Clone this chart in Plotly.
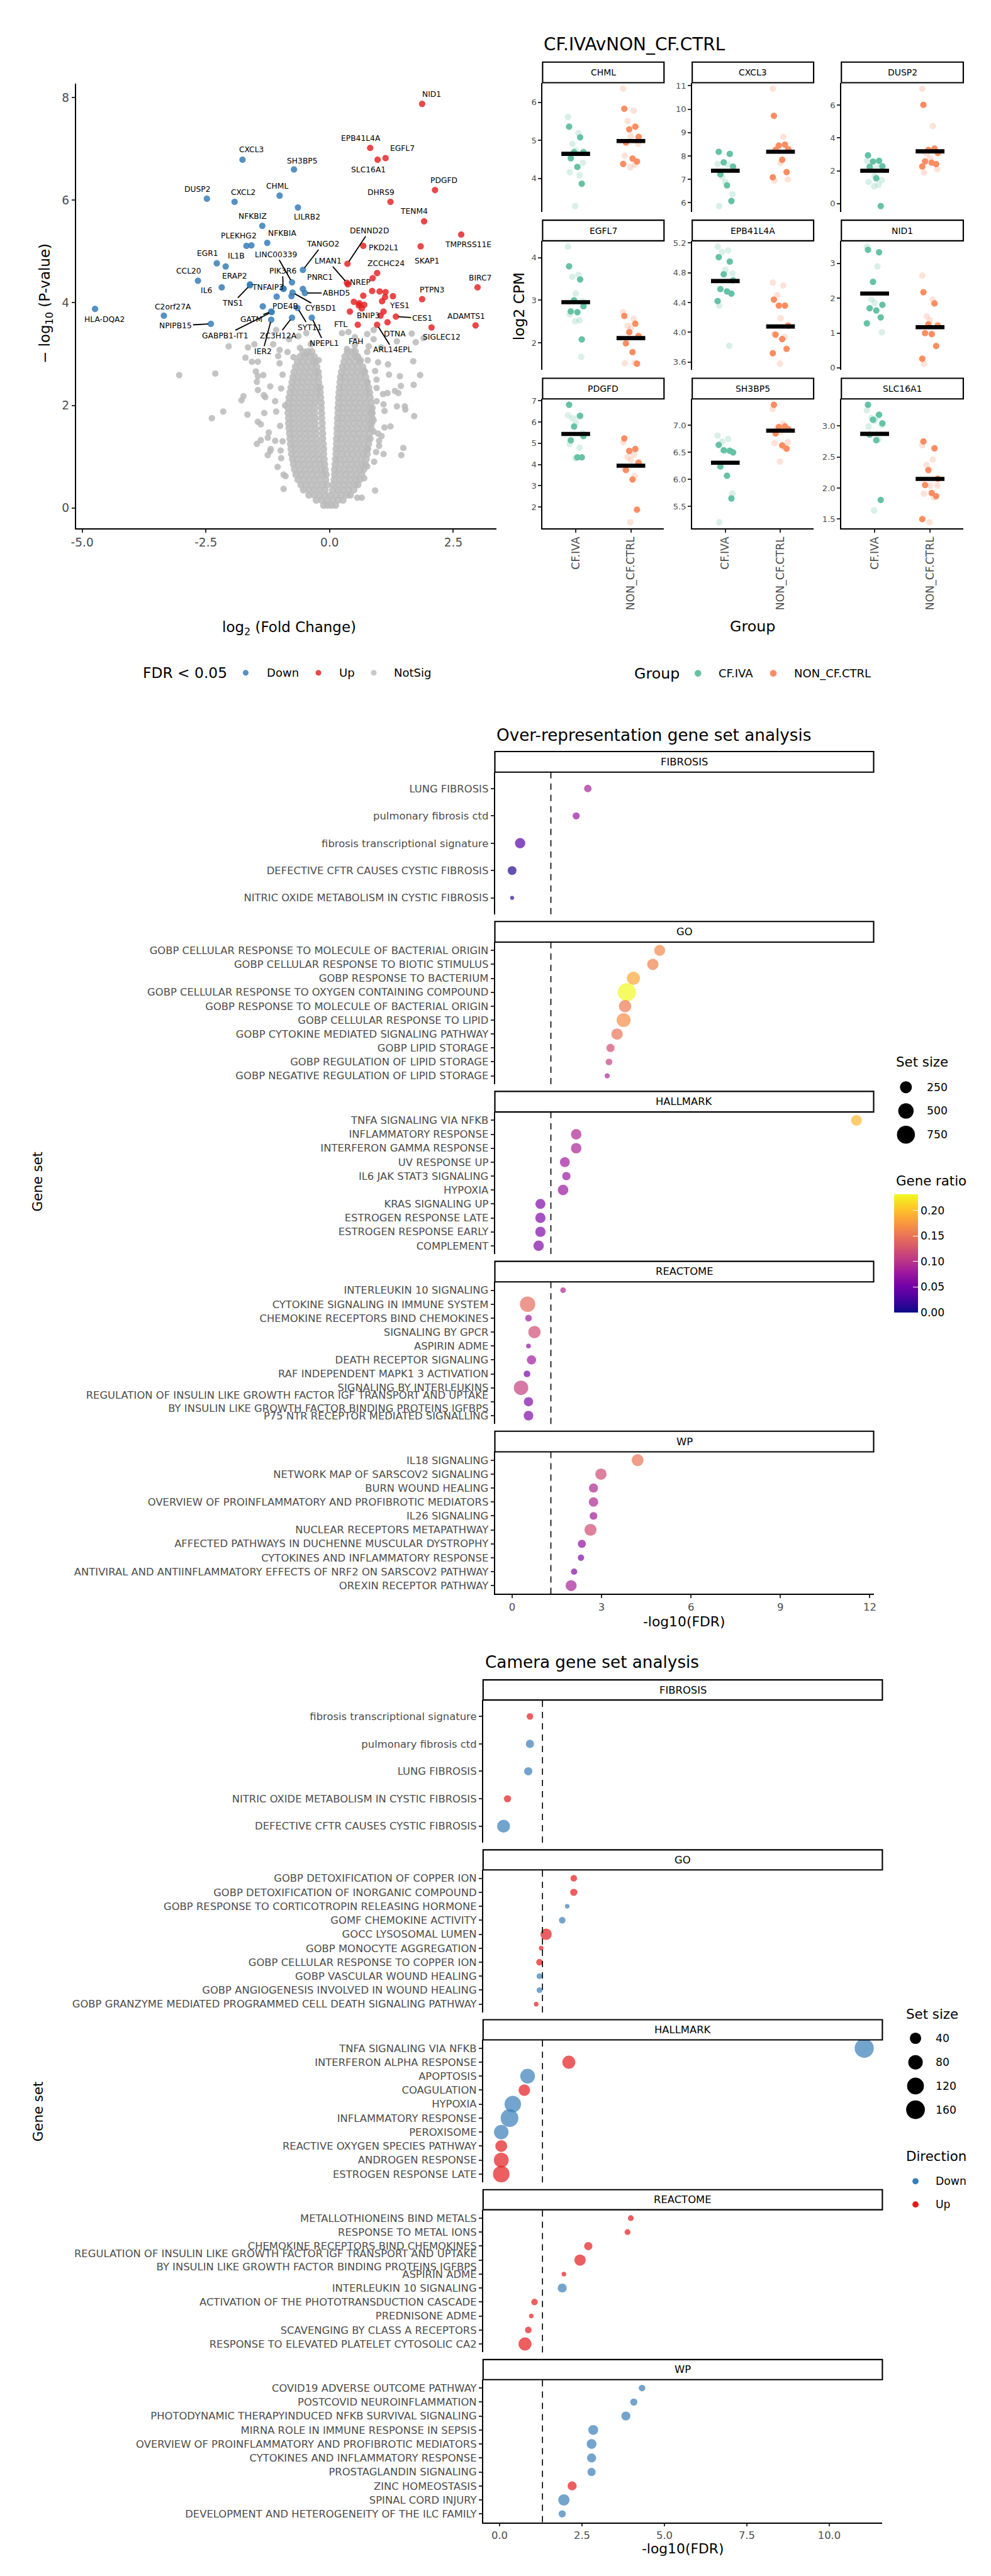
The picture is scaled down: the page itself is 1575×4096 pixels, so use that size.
import plotly.graph_objects as go
import numpy as np

# ====================== DATA ======================
# ---- Volcano: significant genes (log2FC, -log10 P) ----
DOWN_GENES = ["CXCL3", "SH3BP5", "DUSP2", "CXCL2", "CHML", "LILRB2", "NFKBIZ", "NFKBIA", "PLEKHG2", "",
              "EGR1", "IL1B", "TANGO2", "LINC00339", "CCL20", "ERAP2", "TNS1", "IL6", "PIK3R6", "TNFAIP3",
              "PNRC1", "CYB5D1", "ABHD5", "", "", "PDE4B", "SYT11", "GATM", "GABPB1-IT1", "IER2",
              "ZC3H12A", "NPEPL1", "HLA-DQA2", "C2orf27A", "NPIPB15"]
DOWN_LFC = [-1.76, -0.72, -2.48, -1.92, -1.01, -0.64, -1.36, -1.26, -1.68, -1.58,
            -2.28, -2.10, -0.54, -0.76, -2.66, -1.61, -1.61, -2.18, -0.94, -0.93,
            -0.54, -0.75, -0.50, -1.07, -0.77, -1.35, -0.65, -1.18, -1.17, -1.18,
            -0.76, -0.36, -4.74, -3.35, -2.40]
DOWN_NLP = [6.79, 6.60, 6.03, 5.97, 6.09, 5.86, 5.50, 5.17, 5.11, 5.12,
            4.77, 4.71, 4.64, 4.40, 4.43, 4.36, 4.34, 4.30, 4.28, 4.27,
            4.27, 4.20, 4.19, 4.12, 4.13, 3.93, 3.90, 3.83, 3.82, 3.67,
            3.71, 3.71, 3.88, 3.75, 3.59]
UP_GENES = ["NID1", "EPB41L4A", "EGFL7", "SLC16A1", "PDGFD", "DHRS9", "TENM4", "TMPRSS11E", "PKD2L1", "SKAP1",
            "DENND2D", "ZCCHC24", "", "LMAN1", "NREP", "BIRC7", "", "", "", "",
            "", "", "PTPN3", "YES1", "", "", "", "", "", "",
            "FAH", "BNIP3", "CES1", "DTNA", "FTL", "ARL14EPL", "ADAMTS1", "SIGLEC12"]
UP_LFC = [1.87, 0.82, 1.13, 0.97, 2.13, 1.23, 1.91, 2.66, 0.68, 1.84,
          0.36, 0.96, 0.87, 0.35, 0.37, 2.99, 0.86, 1.01, 1.13, 0.68,
          1.28, 1.12, 1.87, 1.06, 0.49, 0.60, 0.59, 0.70, 0.65, 1.09,
          0.41, 1.03, 1.34, 1.17, 0.57, 0.96, 2.95, 2.06]
UP_NLP = [7.88, 7.02, 6.82, 6.79, 6.20, 5.97, 5.59, 5.33, 5.11, 5.10,
          4.76, 4.58, 4.48, 4.39, 4.36, 4.30, 4.23, 4.22, 4.21, 4.14,
          4.13, 4.11, 4.07, 4.03, 4.02, 3.99, 3.95, 3.96, 3.89, 3.83,
          3.83, 3.75, 3.73, 3.62, 3.57, 3.57, 3.56, 3.52]

# ---- Volcano: non-significant genes (scattered outliers) ----
NS_LFC = [-3.04, -2.31, -2.04, -2.38, -2.15, -1.78, -1.74, -1.70, -1.65, -1.57, -1.45, -1.49, -1.45, -1.34,
          -1.47, -1.45, -1.20, -0.98, -1.66, -1.45, -1.39, -1.32, -1.33, -1.30, -1.10, -1.08, -1.23, -1.25,
          -1.39, -1.47, -1.10, -1.19, -1.20, -1.25, -0.99, -0.98, -0.93, -0.89, -0.93, -1.52, -1.14, -1.08,
          -0.82, -0.63, -0.47, -1.01, -0.85, -0.73, -0.47, -0.38, -0.22, -0.60, -1.04, -1.01, -0.95, -1.00,
          -0.95, -1.05, -0.90,
          0.25, 0.38, 0.51, 0.76, 0.89, 0.89, 1.66, 1.36, 1.74, 1.90, 0.79, 1.04, 0.76, 0.51, 0.35, 0.63,
          0.77, 0.98, 1.18, 1.69, 1.42, 1.83, 1.70, 1.44, 0.95, 0.76, 0.92, 0.70, 1.32, 1.39, 1.08, 1.17,
          0.95, 1.09, 1.36, 1.52, 1.53, 1.71, 0.85, 1.11, 0.89, 1.11, 1.23, 0.98, 0.89, 1.00, 1.00, 1.49,
          1.45, 1.09, 0.94, 0.76, 0.92, 0.65, 0.56, 0.76, 0.70, 0.90, 1.05, 0.95, 1.20]
NS_NLP = [2.59, 2.62, 3.15, 1.75, 1.88, 2.10, 2.18, 2.93, 3.13, 2.85, 2.85, 2.66, 2.57, 2.59,
          2.46, 2.30, 2.37, 2.33, 1.82, 1.68, 1.63, 1.85, 2.20, 2.16, 2.08, 1.88, 1.47, 1.37,
          1.32, 1.25, 1.31, 1.15, 1.11, 1.03, 1.12, 0.97, 0.65, 0.62, 0.37, 3.19, 3.19, 3.47,
          3.29, 3.35, 3.41, 3.08, 3.04, 2.94, 3.00, 3.19, 2.88, 3.12, 2.96, 2.82, 2.60, 1.60,
          1.30, 0.80, 2.00,
          3.41, 3.43, 3.33, 3.39, 3.47, 3.29, 3.40, 3.25, 3.23, 3.31, 3.15, 3.13, 3.04, 3.17, 3.10, 2.88,
          2.88, 2.84, 2.80, 2.86, 2.57, 2.59, 2.40, 2.38, 2.34, 2.46, 2.67, 2.68, 2.28, 2.24, 2.22, 2.24,
          2.08, 2.02, 1.98, 1.98, 1.92, 1.79, 1.87, 1.89, 1.71, 1.57, 1.59, 1.45, 1.49, 1.31, 1.21, 1.17,
          1.03, 1.05, 1.09, 1.15, 0.34, 0.20, 0.20, 0.81, 0.58, 0.90, 1.40, 2.50, 2.60]

# ---- Volcano: dense non-significant core, read row by row (-log10 P level, log2FC values) ----
NS_CORE_NLP = [0.05, 0.15, 0.25, 0.35, 0.45, 0.55, 0.65, 0.75, 0.85, 0.95, 1.05, 1.15, 1.25, 1.35, 1.45, 1.55,
               1.65, 1.75, 1.85, 1.95, 2.05, 2.15, 2.25, 2.35, 2.45, 2.55, 2.65, 2.75, 2.85, 2.95, 3.05]
NS_CORE_LFC = [
    [-0.12, -0.04, 0.04, 0.12],
    [-0.27, -0.16, -0.05, 0.06, 0.17, 0.27],
    [-0.42, -0.31, -0.20, -0.09, 0.02, 0.13, 0.24, 0.35, 0.42],
    [-0.53, -0.42, -0.31, -0.20, -0.09, 0.06, 0.17, 0.28, 0.39, 0.49],
    [-0.58, -0.47, -0.36, -0.25, -0.14, -0.05, 0.07, 0.18, 0.29, 0.40, 0.51, 0.57],
    [-0.64, -0.53, -0.42, -0.31, -0.20, -0.08, 0.09, 0.20, 0.31, 0.42, 0.53, 0.61],
    [-0.68, -0.58, -0.47, -0.36, -0.25, -0.14, -0.07, 0.10, 0.21, 0.32, 0.43, 0.54, 0.65],
    [-0.71, -0.60, -0.49, -0.38, -0.27, -0.16, -0.09, 0.10, 0.19, 0.30, 0.41, 0.52, 0.63, 0.69],
    [-0.73, -0.63, -0.52, -0.41, -0.30, -0.19, -0.10, 0.11, 0.22, 0.33, 0.44, 0.55, 0.66, 0.72],
    [-0.75, -0.65, -0.54, -0.43, -0.32, -0.21, -0.11, 0.12, 0.20, 0.31, 0.42, 0.53, 0.64, 0.74],
    [-0.77, -0.67, -0.56, -0.45, -0.34, -0.23, -0.12, 0.13, 0.24, 0.35, 0.46, 0.57, 0.68, 0.76],
    [-0.78, -0.68, -0.57, -0.46, -0.35, -0.24, -0.12, 0.13, 0.22, 0.33, 0.44, 0.55, 0.66, 0.77],
    [-0.79, -0.69, -0.58, -0.47, -0.36, -0.25, -0.13, 0.14, 0.25, 0.36, 0.47, 0.58, 0.69, 0.79],
    [-0.80, -0.70, -0.59, -0.48, -0.37, -0.26, -0.14, 0.14, 0.23, 0.34, 0.45, 0.56, 0.67, 0.78, 0.82],
    [-0.81, -0.71, -0.60, -0.49, -0.38, -0.27, -0.14, 0.15, 0.26, 0.37, 0.48, 0.59, 0.70, 0.81],
    [-0.82, -0.72, -0.61, -0.50, -0.39, -0.28, -0.15, 0.15, 0.24, 0.35, 0.46, 0.57, 0.68, 0.79, 0.84],
    [-0.83, -0.73, -0.62, -0.51, -0.40, -0.29, -0.15, 0.16, 0.27, 0.38, 0.49, 0.60, 0.71, 0.82, 0.85],
    [-0.83, -0.73, -0.62, -0.51, -0.40, -0.29, -0.16, 0.16, 0.25, 0.36, 0.47, 0.58, 0.69, 0.80, 0.86],
    [-0.84, -0.74, -0.63, -0.52, -0.41, -0.30, -0.16, 0.17, 0.28, 0.39, 0.50, 0.61, 0.72, 0.83, 0.86],
    [-0.84, -0.74, -0.63, -0.52, -0.41, -0.30, -0.17, 0.17, 0.26, 0.37, 0.48, 0.59, 0.70, 0.81, 0.86],
    [-0.83, -0.73, -0.62, -0.51, -0.40, -0.29, -0.17, 0.18, 0.29, 0.40, 0.51, 0.62, 0.73, 0.84],
    [-0.82, -0.72, -0.61, -0.50, -0.39, -0.28, -0.18, 0.18, 0.27, 0.38, 0.49, 0.60, 0.71, 0.82],
    [-0.80, -0.70, -0.59, -0.48, -0.37, -0.26, -0.19, 0.19, 0.30, 0.41, 0.52, 0.63, 0.74, 0.81],
    [-0.78, -0.68, -0.57, -0.46, -0.35, -0.24, -0.19, 0.20, 0.28, 0.39, 0.50, 0.61, 0.72, 0.79],
    [-0.76, -0.66, -0.55, -0.44, -0.33, -0.22, 0.21, 0.32, 0.43, 0.54, 0.65, 0.76],
    [-0.74, -0.64, -0.53, -0.42, -0.31, -0.22, 0.22, 0.30, 0.41, 0.52, 0.63, 0.73],
    [-0.72, -0.61, -0.50, -0.39, -0.28, -0.23, 0.24, 0.34, 0.45, 0.56, 0.67, 0.71],
    [-0.69, -0.58, -0.47, -0.36, -0.26, 0.26, 0.35, 0.46, 0.57, 0.67],
    [-0.65, -0.54, -0.43, -0.32, -0.28, 0.29, 0.40, 0.51, 0.61],
    [-0.60, -0.50, -0.39, -0.31, 0.31, 0.42, 0.53, 0.57],
    [-0.54, -0.44, -0.36, 0.36, 0.46, 0.52],
]

# ---- Small multiples: log2 CPM per group (solid and light points) ----
GROUPS = ["CF.IVA", "NON_CF.CTRL"]
PANEL_GENES = ["CHML", "CXCL3", "DUSP2", "EGFL7", "EPB41L4A", "NID1", "PDGFD", "SH3BP5", "SLC16A1"]

CHML_IVA = [5.36, 5.08, 4.69, 4.69, 4.53, 4.30, 3.86]
CHML_IVA_LIGHT = [5.61, 5.19, 4.91, 4.74, 4.41, 4.16, 4.08, 3.27]
CHML_CTRL = [5.83, 5.36, 5.29, 5.09, 4.94, 4.52, 4.44, 4.38]
CHML_CTRL_LIGHT = [6.36, 5.78, 5.51, 5.11, 4.91, 4.60, 4.36, 4.29]

CXCL3_IVA = [8.18, 8.09, 7.73, 7.55, 7.22, 6.75, 6.08]
CXCL3_IVA_LIGHT = [7.66, 7.62, 7.11, 6.89, 6.37, 5.86]
CXCL3_CTRL = [9.72, 8.49, 8.45, 8.29, 8.26, 7.84, 7.31, 7.09]
CXCL3_CTRL_LIGHT = [10.88, 8.82, 8.37, 7.71, 7.00, 6.95]

DUSP2_IVA = [2.94, 2.61, 2.56, 2.27, 2.24, 1.55, -0.15]
DUSP2_IVA_LIGHT = [2.60, 2.20, 2.15, 1.67, 1.43, 1.33, 1.14, 1.06]
DUSP2_CTRL = [6.01, 3.35, 3.27, 3.09, 2.57, 2.49, 2.41, 2.26]
DUSP2_CTRL_LIGHT = [7.00, 4.72, 3.05, 2.76, 2.10, 1.90]

EGFL7_IVA = [3.80, 3.49, 3.00, 2.86, 2.74, 2.72, 2.08]
EGFL7_IVA_LIGHT = [4.26, 3.60, 3.55, 3.16, 2.98, 2.67, 2.53, 2.51, 1.67]
EGFL7_CTRL = [2.63, 2.45, 2.25, 2.16, 1.99, 1.78, 1.51]
EGFL7_CTRL_LIGHT = [2.72, 2.57, 2.40, 2.34, 2.17, 1.52, 1.53]

EPB41L4A_IVA = [5.01, 4.95, 4.78, 4.70, 4.58, 4.55, 4.52, 4.42]
EPB41L4A_IVA_LIGHT = [5.15, 5.10, 5.08, 4.84, 4.79, 4.36, 3.82]
EPB41L4A_CTRL = [4.44, 4.36, 4.36, 4.09, 3.97, 3.91, 3.78, 3.72]
EPB41L4A_CTRL_LIGHT = [4.67, 4.63, 4.50, 4.19, 4.10, 3.98, 3.94, 3.58]

NID1_IVA = [3.39, 3.32, 2.47, 1.81, 1.71, 1.65, 1.45, 1.28]
NID1_IVA_LIGHT = [3.48, 2.91, 1.97, 1.87, 1.02]
NID1_CTRL = [2.17, 1.85, 1.25, 1.21, 1.00, 0.97, 0.63, 0.26]
NID1_CTRL_LIGHT = [2.65, 1.96, 1.48, 1.37, 1.24, 0.12]

PDGFD_IVA = [6.81, 6.29, 5.79, 5.34, 5.14, 4.34, 4.34]
PDGFD_IVA_LIGHT = [6.31, 6.24, 6.18, 5.96, 5.48, 4.97, 4.79, 4.30]
PDGFD_CTRL = [5.23, 4.73, 4.64, 4.08, 3.74, 3.30, 1.88]
PDGFD_CTRL_LIGHT = [5.06, 4.47, 4.35, 4.21, 4.11, 3.80, 3.46, 1.29]

SH3BP5_IVA = [6.64, 6.53, 6.54, 6.50, 6.24, 6.07, 5.65]
SH3BP5_IVA_LIGHT = [6.81, 6.75, 6.70, 6.53, 5.74, 5.21]
SH3BP5_CTRL = [7.38, 6.98, 6.97, 6.93, 6.85, 6.63, 6.57]
SH3BP5_CTRL_LIGHT = [7.30, 7.03, 6.94, 6.88, 6.69, 6.67, 6.59, 6.33]

SLC16A1_IVA = [3.34, 3.18, 3.10, 3.04, 2.86, 2.77, 1.81]
SLC16A1_IVA_LIGHT = [3.25, 3.15, 3.13, 3.08, 3.01, 2.99, 2.78, 1.64]
SLC16A1_CTRL = [2.75, 2.64, 2.29, 2.15, 2.05, 1.92, 1.87, 1.50]
SLC16A1_CTRL_LIGHT = [2.69, 2.46, 2.37, 2.04, 2.04, 1.91, 1.85, 1.45]

PANEL_TICKS = {
    "CHML": ([4, 5, 6], ["4", "5", "6"]),
    "CXCL3": ([6, 7, 8, 9, 10, 11], ["6", "7", "8", "9", "10", "11"]),
    "DUSP2": ([0, 2, 4, 6], ["0", "2", "4", "6"]),
    "EGFL7": ([2, 3, 4], ["2", "3", "4"]),
    "EPB41L4A": ([3.6, 4.0, 4.4, 4.8, 5.2], ["3.6", "4.0", "4.4", "4.8", "5.2"]),
    "NID1": ([0, 1, 2, 3], ["0", "1", "2", "3"]),
    "PDGFD": ([2, 3, 4, 5, 6, 7], ["2", "3", "4", "5", "6", "7"]),
    "SH3BP5": ([5.5, 6.0, 6.5, 7.0], ["5.5", "6.0", "6.5", "7.0"]),
    "SLC16A1": ([1.5, 2.0, 2.5, 3.0], ["1.5", "2.0", "2.5", "3.0"]),
}

# ---- Over-representation analysis ----
REG_IGF = ("REGULATION OF INSULIN LIKE GROWTH FACTOR IGF TRANSPORT AND UPTAKE<br>"
           "BY INSULIN LIKE GROWTH FACTOR BINDING PROTEINS IGFBPS")
FACETS = ["FIBROSIS", "GO", "HALLMARK", "REACTOME", "WP"]

ORA_FIBROSIS_SETS = ["LUNG FIBROSIS", "pulmonary fibrosis ctd", "fibrosis transcriptional signature",
                     "DEFECTIVE CFTR CAUSES CYSTIC FIBROSIS", "NITRIC OXIDE METABOLISM IN CYSTIC FIBROSIS"]
ORA_FIBROSIS_FDR = [2.54, 2.15, 0.27, 0.0, 0.0]
ORA_FIBROSIS_SIZE = [55, 45, 160, 95, 5]
ORA_FIBROSIS_RATIO = [0.085, 0.075, 0.035, 0.01, 0.012]

ORA_GO_SETS = ["GOBP CELLULAR RESPONSE TO MOLECULE OF BACTERIAL ORIGIN", "GOBP CELLULAR RESPONSE TO BIOTIC STIMULUS",
               "GOBP RESPONSE TO BACTERIUM", "GOBP CELLULAR RESPONSE TO OXYGEN CONTAINING COMPOUND",
               "GOBP RESPONSE TO MOLECULE OF BACTERIAL ORIGIN", "GOBP CELLULAR RESPONSE TO LIPID",
               "GOBP CYTOKINE MEDIATED SIGNALING PATHWAY", "GOBP LIPID STORAGE",
               "GOBP REGULATION OF LIPID STORAGE", "GOBP NEGATIVE REGULATION OF LIPID STORAGE"]
ORA_GO_FDR = [4.95, 4.72, 4.07, 3.85, 3.79, 3.74, 3.52, 3.30, 3.25, 3.19]
ORA_GO_SIZE = [190, 215, 330, 760, 280, 385, 215, 75, 35, 12]
ORA_GO_RATIO = [0.165, 0.16, 0.185, 0.232, 0.155, 0.168, 0.15, 0.12, 0.11, 0.09]

ORA_HALLMARK_SETS = ["TNFA SIGNALING VIA NFKB", "INFLAMMATORY RESPONSE", "INTERFERON GAMMA RESPONSE", "UV RESPONSE UP",
                     "IL6 JAK STAT3 SIGNALING", "HYPOXIA", "KRAS SIGNALING UP", "ESTROGEN RESPONSE LATE",
                     "ESTROGEN RESPONSE EARLY", "COMPLEMENT"]
ORA_HALLMARK_FDR = [11.55, 2.15, 2.15, 1.77, 1.82, 1.71, 0.95, 0.95, 0.95, 0.89]
ORA_HALLMARK_SIZE = [180, 170, 170, 140, 80, 170, 150, 160, 160, 165]
ORA_HALLMARK_RATIO = [0.195, 0.09, 0.085, 0.08, 0.075, 0.075, 0.06, 0.06, 0.06, 0.06]

ORA_REACTOME_SETS = ["INTERLEUKIN 10 SIGNALING", "CYTOKINE SIGNALING IN IMMUNE SYSTEM", "CHEMOKINE RECEPTORS BIND CHEMOKINES",
                     "SIGNALING BY GPCR", "ASPIRIN ADME", "DEATH RECEPTOR SIGNALING", "RAF INDEPENDENT MAPK1 3 ACTIVATION",
                     "SIGNALING BY INTERLEUKINS", REG_IGF, "P75 NTR RECEPTOR MEDIATED SIGNALLING"]
ORA_REACTOME_FDR = [1.71, 0.52, 0.55, 0.75, 0.55, 0.65, 0.5, 0.3, 0.55, 0.55]
ORA_REACTOME_SIZE = [17, 500, 35, 277, 8, 115, 35, 425, 115, 130]
ORA_REACTOME_RATIO = [0.09, 0.145, 0.08, 0.12, 0.07, 0.08, 0.055, 0.11, 0.06, 0.06]

ORA_WP_SETS = ["IL18 SIGNALING", "NETWORK MAP OF SARSCOV2 SIGNALING", "BURN WOUND HEALING",
               "OVERVIEW OF PROINFLAMMATORY AND PROFIBROTIC MEDIATORS", "IL26 SIGNALING", "NUCLEAR RECEPTORS METAPATHWAY",
               "AFFECTED PATHWAYS IN DUCHENNE MUSCULAR DYSTROPHY", "CYTOKINES AND INFLAMMATORY RESPONSE",
               "ANTIVIRAL AND ANTIINFLAMMATORY EFFECTS OF NRF2 ON SARSCOV2 PATHWAY", "OREXIN RECEPTOR PATHWAY"]
ORA_WP_FDR = [4.21, 2.98, 2.73, 2.73, 2.73, 2.63, 2.34, 2.31, 2.08, 1.98]
ORA_WP_SIZE = [245, 215, 110, 122, 61, 255, 72, 28, 28, 195]
ORA_WP_RATIO = [0.15, 0.12, 0.09, 0.09, 0.08, 0.12, 0.07, 0.06, 0.06, 0.085]

# ---- Camera gene set analysis ----
CAM_FIBROSIS_SETS = ["fibrosis transcriptional signature", "pulmonary fibrosis ctd", "LUNG FIBROSIS",
                     "NITRIC OXIDE METABOLISM IN CYSTIC FIBROSIS", "DEFECTIVE CFTR CAUSES CYSTIC FIBROSIS"]
CAM_FIBROSIS_FDR = [0.92, 0.92, 0.87, 0.24, 0.12]
CAM_FIBROSIS_SIZE = [8, 15, 15, 10, 58]
CAM_FIBROSIS_DIR = ["Up", "Down", "Down", "Up", "Down"]

CAM_GO_SETS = ["GOBP DETOXIFICATION OF COPPER ION", "GOBP DETOXIFICATION OF INORGANIC COMPOUND",
               "GOBP RESPONSE TO CORTICOTROPIN RELEASING HORMONE", "GOMF CHEMOKINE ACTIVITY", "GOCC LYSOSOMAL LUMEN",
               "GOBP MONOCYTE AGGREGATION", "GOBP CELLULAR RESPONSE TO COPPER ION", "GOBP VASCULAR WOUND HEALING",
               "GOBP ANGIOGENESIS INVOLVED IN WOUND HEALING",
               "GOBP GRANZYME MEDIATED PROGRAMMED CELL DEATH SIGNALING PATHWAY"]
CAM_GO_FDR = [2.25, 2.25, 2.05, 1.90, 1.41, 1.26, 1.21, 1.21, 1.21, 1.11]
CAM_GO_SIZE = [8, 10, 5, 8, 40, 5, 8, 6, 6, 5]
CAM_GO_DIR = ["Up", "Up", "Down", "Down", "Up", "Up", "Up", "Down", "Down", "Up"]

CAM_HALLMARK_SETS = ["TNFA SIGNALING VIA NFKB", "INTERFERON ALPHA RESPONSE", "APOPTOSIS", "COAGULATION", "HYPOXIA",
                     "INFLAMMATORY RESPONSE", "PEROXISOME", "REACTIVE OXYGEN SPECIES PATHWAY", "ANDROGEN RESPONSE",
                     "ESTROGEN RESPONSE LATE"]
CAM_HALLMARK_FDR = [11.06, 2.10, 0.85, 0.75, 0.40, 0.30, 0.05, 0.05, 0.05, 0.05]
CAM_HALLMARK_SIZE = [167, 61, 85, 42, 114, 138, 80, 45, 85, 114]
CAM_HALLMARK_DIR = ["Down", "Up", "Down", "Up", "Down", "Down", "Down", "Up", "Up", "Up"]

CAM_REACTOME_SETS = ["METALLOTHIONEINS BIND METALS", "RESPONSE TO METAL IONS", "CHEMOKINE RECEPTORS BIND CHEMOKINES",
                     REG_IGF, "ASPIRIN ADME", "INTERLEUKIN 10 SIGNALING", "ACTIVATION OF THE PHOTOTRANSDUCTION CASCADE",
                     "PREDNISONE ADME", "SCAVENGING BY CLASS A RECEPTORS", "RESPONSE TO ELEVATED PLATELET CYTOSOLIC CA2"]
CAM_REACTOME_FDR = [3.98, 3.88, 2.69, 2.44, 1.95, 1.90, 1.06, 0.96, 0.87, 0.77]
CAM_REACTOME_SIZE = [6, 6, 15, 40, 5, 20, 8, 5, 8, 61]
CAM_REACTOME_DIR = ["Up", "Up", "Up", "Up", "Up", "Down", "Up", "Up", "Up", "Up"]

CAM_WP_SETS = ["COVID19 ADVERSE OUTCOME PATHWAY", "POSTCOVID NEUROINFLAMMATION",
               "PHOTODYNAMIC THERAPYINDUCED NFKB SURVIVAL SIGNALING", "MIRNA ROLE IN IMMUNE RESPONSE IN SEPSIS",
               "OVERVIEW OF PROINFLAMMATORY AND PROFIBROTIC MEDIATORS", "CYTOKINES AND INFLAMMATORY RESPONSE",
               "PROSTAGLANDIN SIGNALING", "ZINC HOMEOSTASIS", "SPINAL CORD INJURY",
               "DEVELOPMENT AND HETEROGENEITY OF THE ILC FAMILY"]
CAM_WP_FDR = [4.32, 4.07, 3.83, 2.84, 2.79, 2.79, 2.79, 2.20, 1.95, 1.90]
CAM_WP_SIZE = [8, 10, 20, 26, 26, 20, 15, 20, 40, 10]
CAM_WP_DIR = ["Down", "Down", "Down", "Down", "Down", "Down", "Down", "Up", "Down", "Down"]

ORA_TICKS = [0, 3, 6, 9, 12]
CAM_TICKS = [0, 2.5, 5, 7.5, 10]
CAM_TICKTEXT = ["0.0", "2.5", "5.0", "7.5", "10.0"]
ORA_SIZE_LEGEND = [250, 500, 750]
CAM_SIZE_LEGEND = [40, 80, 120, 160]
RATIO_TICKS = [0.0, 0.05, 0.10, 0.15, 0.20]
FDR_CUTOFF = 0.05

# ====================== LAYOUT HELPERS ======================
W_REF, H_REF = 1920, 4992
S = 1575 / 1920
FONT = "DejaVu Sans"
TICK_GRAY = "#4D4D4D"


def fx(x):
    return x / W_REF


def fy(y):
    return 1 - y / H_REF


def fs(v):
    return v * S


# label placement for the volcano (label centre in data units, with/without a leader line)
LABEL_POS = {
    "NID1": (2.06, 8.07, False), "EPB41L4A": (0.63, 7.21, False), "EGFL7": (1.47, 7.01, False),
    "SLC16A1": (0.78, 6.59, False), "CXCL3": (-1.58, 6.98, False), "SH3BP5": (-0.55, 6.77, False),
    "PDGFD": (2.31, 6.38, False), "DUSP2": (-2.67, 6.21, False), "CXCL2": (-1.74, 6.15, False),
    "CHML": (-1.06, 6.27, False), "DHRS9": (1.04, 6.15, False), "LILRB2": (-0.46, 5.67, False),
    "TENM4": (1.71, 5.78, False), "NFKBIZ": (-1.55, 5.68, False), "TMPRSS11E": (2.80, 5.13, False),
    "NFKBIA": (-0.96, 5.35, False), "PLEKHG2": (-1.83, 5.30, False), "DENND2D": (0.80, 5.40, True),
    "PKD2L1": (1.09, 5.07, False), "TANGO2": (-0.14, 5.14, True), "SKAP1": (1.97, 4.82, False),
    "EGR1": (-2.47, 4.96, False), "IL1B": (-1.88, 4.91, False), "LINC00339": (-1.08, 4.94, True),
    "LMAN1": (-0.03, 4.81, True), "ZCCHC24": (1.14, 4.76, False), "CCL20": (-2.85, 4.62, False),
    "PIK3R6": (-0.95, 4.62, True), "ERAP2": (-1.92, 4.52, False), "PNRC1": (-0.19, 4.49, False),
    "NREP": (0.62, 4.40, False), "BIRC7": (3.04, 4.48, False), "TNFAIP3": (-1.25, 4.30, False),
    "IL6": (-2.49, 4.24, False), "PTPN3": (2.07, 4.25, False), "ABHD5": (0.13, 4.19, True),
    "TNS1": (-1.96, 3.99, True), "C2orf27A": (-3.16, 3.92, False), "HLA-DQA2": (-4.55, 3.68, False),
    "PDE4B": (-0.89, 3.93, False), "CYB5D1": (-0.18, 3.89, True), "YES1": (1.42, 3.95, False),
    "GATM": (-1.58, 3.68, True), "BNIP3": (0.78, 3.75, False), "CES1": (1.87, 3.70, True),
    "ADAMTS1": (2.76, 3.74, False), "NPIPB15": (-3.11, 3.55, True), "FTL": (0.23, 3.57, False),
    "SYT11": (-0.41, 3.52, True), "DTNA": (1.32, 3.39, False), "SIGLEC12": (2.26, 3.33, False),
    "GABPB1-IT1": (-2.12, 3.36, True), "ZC3H12A": (-1.04, 3.36, True), "FAH": (0.54, 3.25, False),
    "NPEPL1": (-0.11, 3.21, True), "IER2": (-1.35, 3.05, True), "ARL14EPL": (1.28, 3.08, True),
}

COL_DOWN = "rgba(55,126,184,0.85)"
COL_UP = "rgba(228,26,28,0.80)"
COL_NS = "rgba(186,186,186,0.85)"
COL_IVA = "#66C2A5"
COL_CTRL = "#FC8D62"
CAM_COLORS = {"Down": "#377EB8", "Up": "#E41A1C"}
JIT = [-0.12, 0.08, -0.03, 0.14, -0.09, 0.03, 0.11, -0.14, 0.05, -0.06, 0.0, 0.13, -0.11, 0.07, -0.01, 0.10]

layout = dict(width=1575, height=4096, margin=dict(l=0, r=0, t=0, b=0),
              paper_bgcolor="white", plot_bgcolor="rgba(0,0,0,0)", showlegend=False,
              font=dict(family=FONT, color="black"))
annotations = []
shapes = []
traces = []
_ax = {"n": 0}


def make_axes(x0, x1, y0, y1, xkw, ykw):
    _ax["n"] += 1
    n = _ax["n"]
    sfx = "" if n == 1 else str(n)
    layout["xaxis" + sfx] = dict(domain=[fx(x0), fx(x1)], anchor="y" + sfx, **xkw)
    layout["yaxis" + sfx] = dict(domain=[fy(y1), fy(y0)], anchor="x" + sfx, **ykw)
    return "x" + sfx, "y" + sfx


def axis(tick_px=20, **kw):
    d = dict(showgrid=False, zeroline=False, showline=True, linecolor="black", linewidth=fs(2.4),
             ticks="outside", ticklen=fs(6), tickwidth=fs(2), tickcolor="#333333",
             tickfont=dict(family=FONT, size=fs(tick_px), color=TICK_GRAY), fixedrange=True)
    d.update(kw)
    return d


def hidden_x(**kw):
    d = dict(showgrid=False, zeroline=False, showline=False, ticks="", showticklabels=False, fixedrange=True)
    d.update(kw)
    return d


def text(t, x, y, size, xanchor="center", yanchor="middle", angle=0, color="black"):
    annotations.append(dict(text=t, x=fx(x), y=fy(y), xref="paper", yref="paper", showarrow=False,
                            font=dict(family=FONT, size=fs(size), color=color),
                            xanchor=xanchor, yanchor=yanchor, textangle=angle))


def strip(x0, x1, y0, y1, label, size):
    shapes.append(dict(type="rect", xref="paper", yref="paper", x0=fx(x0), x1=fx(x1), y0=fy(y1), y1=fy(y0),
                       line=dict(color="black", width=fs(2.6)), fillcolor="white", layer="above"))
    text(label, (x0 + x1) / 2, (y0 + y1) / 2, size)


def expand(vals, frac=0.05):
    lo, hi = min(vals), max(vals)
    span = hi - lo
    return [lo - frac * span, hi + frac * span]


# ====================== VOLCANO ======================
core_x = [v for row in NS_CORE_LFC for v in row]
core_y = [y for y, row in zip(NS_CORE_NLP, NS_CORE_LFC) for _ in row]
all_x = DOWN_LFC + UP_LFC + NS_LFC + core_x
all_y = DOWN_NLP + UP_NLP + NS_NLP + core_y + [0.0]
vx, vy = make_axes(128.6, 950, 147.7, 1011,
                   axis(22.6, range=expand(all_x), tickvals=[-5, -2.5, 0, 2.5],
                        ticktext=["-5.0", "-2.5", "0.0", "2.5"]),
                   axis(22.6, range=expand(all_y), tickvals=[0, 2, 4, 6, 8]))
PT = fs(12.5)
traces.append(go.Scatter(x=core_x, y=core_y, mode="markers", xaxis=vx, yaxis=vy,
                         marker=dict(size=fs(14), color=COL_NS, line=dict(width=0))))
traces.append(go.Scatter(x=NS_LFC, y=NS_NLP, mode="markers", xaxis=vx, yaxis=vy,
                         marker=dict(size=PT, color=COL_NS, line=dict(width=0))))
traces.append(go.Scatter(x=DOWN_LFC, y=DOWN_NLP, mode="markers", xaxis=vx, yaxis=vy,
                         marker=dict(size=PT, color=COL_DOWN, line=dict(width=0))))
traces.append(go.Scatter(x=UP_LFC, y=UP_NLP, mode="markers", xaxis=vx, yaxis=vy,
                         marker=dict(size=PT, color=COL_UP, line=dict(width=0))))
for genes, lfc, nlp in [(DOWN_GENES, DOWN_LFC, DOWN_NLP), (UP_GENES, UP_LFC, UP_NLP)]:
    for g, x, y in zip(genes, lfc, nlp):
        if not g:
            continue
        lx, ly, leader = LABEL_POS[g]
        fnt = dict(family=FONT, size=fs(15), color="black")
        if leader:
            annotations.append(dict(x=x, y=y, xref=vx, yref=vy, ax=lx, ay=ly, axref=vx, ayref=vy, text=g,
                                    showarrow=True, arrowhead=0, arrowwidth=fs(2.2), arrowcolor="black",
                                    standoff=fs(5), font=fnt))
        else:
            annotations.append(dict(x=lx, y=ly, xref=vx, yref=vy, text=g, showarrow=False, font=fnt))
text("\u2212 log<sub>10</sub> (P-value)", 70, 574, 28, angle=-90)
text("log<sub>2</sub> (Fold Change)", 545, 1205, 28)

# ====================== SMALL MULTIPLES ======================
SM = {
    "CHML": (CHML_IVA, CHML_IVA_LIGHT, CHML_CTRL, CHML_CTRL_LIGHT),
    "CXCL3": (CXCL3_IVA, CXCL3_IVA_LIGHT, CXCL3_CTRL, CXCL3_CTRL_LIGHT),
    "DUSP2": (DUSP2_IVA, DUSP2_IVA_LIGHT, DUSP2_CTRL, DUSP2_CTRL_LIGHT),
    "EGFL7": (EGFL7_IVA, EGFL7_IVA_LIGHT, EGFL7_CTRL, EGFL7_CTRL_LIGHT),
    "EPB41L4A": (EPB41L4A_IVA, EPB41L4A_IVA_LIGHT, EPB41L4A_CTRL, EPB41L4A_CTRL_LIGHT),
    "NID1": (NID1_IVA, NID1_IVA_LIGHT, NID1_CTRL, NID1_CTRL_LIGHT),
    "PDGFD": (PDGFD_IVA, PDGFD_IVA_LIGHT, PDGFD_CTRL, PDGFD_CTRL_LIGHT),
    "SH3BP5": (SH3BP5_IVA, SH3BP5_IVA_LIGHT, SH3BP5_CTRL, SH3BP5_CTRL_LIGHT),
    "SLC16A1": (SLC16A1_IVA, SLC16A1_IVA_LIGHT, SLC16A1_CTRL, SLC16A1_CTRL_LIGHT),
}
SM_COLS = [(1039.7, 1276.7), (1331.8, 1568.8), (1623, 1861)]
SM_ROWS = [(146, 397), (453, 703), (760, 1011)]
STRIP_H = 40
for i, gene in enumerate(PANEL_GENES):
    r, c = divmod(i, 3)
    x0, x1 = SM_COLS[c]
    y0, y1 = SM_ROWS[r]
    iva, iva_l, ctrl, ctrl_l = SM[gene]
    tv, tt = PANEL_TICKS[gene]
    if r == 2:
        xkw = axis(21, range=[0.4, 2.6], tickvals=[1, 2], ticktext=GROUPS, tickangle=-90)
    else:
        xkw = hidden_x(range=[0.4, 2.6])
    xa, ya = make_axes(x0, x1, y0, y1, xkw,
                       axis(16, range=expand(iva + iva_l + ctrl + ctrl_l), tickvals=tv, ticktext=tt))
    for gi, (solid, light, col) in enumerate([(iva, iva_l, COL_IVA), (ctrl, ctrl_l, COL_CTRL)]):
        pos = gi + 1
        traces.append(go.Scatter(x=[pos + JIT[(k + 7) % len(JIT)] for k in range(len(light))], y=light,
                                 mode="markers", xaxis=xa, yaxis=ya,
                                 marker=dict(size=fs(12.5), color=col, opacity=0.25, line=dict(width=0))))
        traces.append(go.Scatter(x=[pos + JIT[k % len(JIT)] for k in range(len(solid))], y=solid,
                                 mode="markers", xaxis=xa, yaxis=ya,
                                 marker=dict(size=fs(12.5), color=col, line=dict(width=0))))
        m = float(np.mean(solid))
        traces.append(go.Scatter(x=[pos - 0.26, pos + 0.26], y=[m, m], mode="lines", xaxis=xa, yaxis=ya,
                                 line=dict(color="black", width=fs(8))))
    strip(x0, x1, y0 - STRIP_H, y0, gene, 17)
text("CF.IVAvNON_CF.CTRL", 1039.7, 71.5, 34, xanchor="left")
text("log2 CPM", 993, 580, 28.5, angle=-90)
text("Group", 1450, 1202, 29)

# ====================== DOT PLOT FACETS ======================


def ora_size(v, vmin, vmax):
    return fs(7.5 + 27.5 * np.sqrt((v - vmin) / (vmax - vmin)))


def cam_size(v, vmin, vmax):
    return fs(9 + 28.0 * np.sqrt((v - vmin) / (vmax - vmin)))


ORA = [(ORA_FIBROSIS_SETS, ORA_FIBROSIS_FDR, ORA_FIBROSIS_SIZE, ORA_FIBROSIS_RATIO),
       (ORA_GO_SETS, ORA_GO_FDR, ORA_GO_SIZE, ORA_GO_RATIO),
       (ORA_HALLMARK_SETS, ORA_HALLMARK_FDR, ORA_HALLMARK_SIZE, ORA_HALLMARK_RATIO),
       (ORA_REACTOME_SETS, ORA_REACTOME_FDR, ORA_REACTOME_SIZE, ORA_REACTOME_RATIO),
       (ORA_WP_SETS, ORA_WP_FDR, ORA_WP_SIZE, ORA_WP_RATIO)]
CAM = [(CAM_FIBROSIS_SETS, CAM_FIBROSIS_FDR, CAM_FIBROSIS_SIZE, CAM_FIBROSIS_DIR),
       (CAM_GO_SETS, CAM_GO_FDR, CAM_GO_SIZE, CAM_GO_DIR),
       (CAM_HALLMARK_SETS, CAM_HALLMARK_FDR, CAM_HALLMARK_SIZE, CAM_HALLMARK_DIR),
       (CAM_REACTOME_SETS, CAM_REACTOME_FDR, CAM_REACTOME_SIZE, CAM_REACTOME_DIR),
       (CAM_WP_SETS, CAM_WP_FDR, CAM_WP_SIZE, CAM_WP_DIR)]

cut = -np.log10(FDR_CUTOFF)

# ---- ORA ----
ora_all_fdr = [v for f in ORA for v in f[1]]
ora_all_size = [v for f in ORA for v in f[2]]
ora_all_ratio = [v for f in ORA for v in f[3]]
ORA_X = (946.5, 1686)
ora_xrange = expand(ora_all_fdr)
smin, smax = min(ora_all_size), max(ora_all_size)
cmax = max(ora_all_ratio)
for k, (sets, fdr, size, ratio) in enumerate(ORA):
    top = 1445 + 330 * k
    n = len(sets)
    last = k == len(ORA) - 1
    xkw = axis(20, range=ora_xrange, tickvals=ORA_TICKS) if last else hidden_x(range=ora_xrange)
    ykw = axis(20, type="category", categoryorder="array", categoryarray=sets, range=[n - 0.4, -0.6])
    xa, ya = make_axes(ORA_X[0], ORA_X[1], top + 40, top + 316, xkw, ykw)
    shapes.append(dict(type="line", xref=xa, yref=ya + " domain", x0=cut, x1=cut, y0=0, y1=1,
                       line=dict(color="black", width=fs(2), dash="10px,8px")))
    mk = dict(size=[ora_size(v, smin, smax) for v in size], color=ratio, colorscale="Plasma",
              cmin=0, cmax=cmax, line=dict(width=0), showscale=(k == 0))
    if k == 0:
        mk["colorbar"] = dict(x=fx(1726), xanchor="left", y=fy(2534), yanchor="bottom",
                              len=230 / H_REF, lenmode="fraction", thickness=fs(46), thicknessmode="pixels",
                              outlinewidth=0, xpad=0, ypad=0, tickvals=RATIO_TICKS,
                              ticktext=["%.2f" % t for t in RATIO_TICKS], ticks="inside", ticklen=fs(9),
                              tickcolor="white", tickwidth=1,
                              tickfont=dict(family=FONT, size=fs(21), color="black"))
    traces.append(go.Scatter(x=fdr, y=sets, mode="markers", xaxis=xa, yaxis=ya, marker=mk))
    strip(ORA_X[0], ORA_X[1], top, top + 40, FACETS[k], 20)
text("Over-representation gene set analysis", 947, 1413, 32, xanchor="left")
text("Gene set", 54, 2280, 26, angle=-90)
text("-log10(FDR)", 1316, 3135, 26.6)

# ---- Camera ----
cam_all_fdr = [v for f in CAM for v in f[1]]
cam_all_size = [v for f in CAM for v in f[2]]
CAM_X = (923.5, 1703)
cam_xrange = expand(cam_all_fdr)
csmin, csmax = min(cam_all_size), max(cam_all_size)
for k, (sets, fdr, size, direc) in enumerate(CAM):
    top = 3248 + 330 * k
    n = len(sets)
    last = k == len(CAM) - 1
    xkw = axis(20, range=cam_xrange, tickvals=CAM_TICKS, ticktext=CAM_TICKTEXT) if last else hidden_x(range=cam_xrange)
    ykw = axis(20, type="category", categoryorder="array", categoryarray=sets, range=[n - 0.4, -0.6])
    xa, ya = make_axes(CAM_X[0], CAM_X[1], top + 39, top + 316, xkw, ykw)
    shapes.append(dict(type="line", xref=xa, yref=ya + " domain", x0=cut, x1=cut, y0=0, y1=1,
                       line=dict(color="black", width=fs(2), dash="10px,8px")))
    traces.append(go.Scatter(x=fdr, y=sets, mode="markers", xaxis=xa, yaxis=ya,
                             marker=dict(size=[cam_size(v, csmin, csmax) for v in size],
                                         color=[CAM_COLORS[d] for d in direc], line=dict(width=0))))
    strip(CAM_X[0], CAM_X[1], top, top + 39, FACETS[k], 20)
text("Camera gene set analysis", 925, 3214, 32, xanchor="left")
text("Gene set", 54, 4086, 26, angle=-90)
text("-log10(FDR)", 1313, 4935, 26.6)

# ====================== LEGENDS (overlay in reference pixel units) ======================
ox, oy = make_axes(0, W_REF, 0, H_REF,
                   dict(visible=False, range=[0, W_REF], fixedrange=True),
                   dict(visible=False, range=[H_REF, 0], fixedrange=True))


def key(x, y, size, color):
    traces.append(go.Scatter(x=[x], y=[y], mode="markers", xaxis=ox, yaxis=oy,
                             marker=dict(size=size, color=color, line=dict(width=0))))


# volcano legend
text("FDR < 0.05", 257, 1292, 28.5, xanchor="left")
for lbl, col, kx, tx in [("Down", COL_DOWN, 460, 499), ("Up", COL_UP, 602, 640), ("NotSig", "#C8C8C8", 710, 747)]:
    key(kx, 1292, fs(11), col)
    text(lbl, tx, 1292, 22, xanchor="left")

# group legend
text("Group", 1216, 1293, 29, xanchor="left")
for lbl, col, kx, tx in [(GROUPS[0], COL_IVA, 1343, 1381), (GROUPS[1], COL_CTRL, 1490, 1528.6)]:
    key(kx, 1293, fs(13), col)
    text(lbl, tx, 1293, 22, xanchor="left")

# ORA legend
text("Set size", 1727, 2048, 26, xanchor="left")
for v, yy in zip(ORA_SIZE_LEGEND, [2097, 2143, 2189]):
    key(1749, yy, ora_size(v, smin, smax), "black")
    text(str(v), 1787, yy, 21, xanchor="left")
text("Gene ratio", 1727, 2279, 26, xanchor="left")

# Camera legend
text("Set size", 1747, 3897, 26, xanchor="left")
for v, yy in zip(CAM_SIZE_LEGEND, [3944, 3990.7, 4036.7, 4082.7]):
    key(1767.7, yy, cam_size(v, csmin, csmax), "black")
    text(str(v), 1804, yy, 21, xanchor="left")
text("Direction", 1747, 4172.7, 26, xanchor="left")
for lbl, yy in [("Down", 4221.7), ("Up", 4266.7)]:
    key(1767.7, yy, fs(12), CAM_COLORS[lbl])
    text(lbl, 1804, yy, 21, xanchor="left")

layout["annotations"] = annotations
layout["shapes"] = shapes
fig = go.Figure(data=traces, layout=layout)
fig.write_html("out.html")
